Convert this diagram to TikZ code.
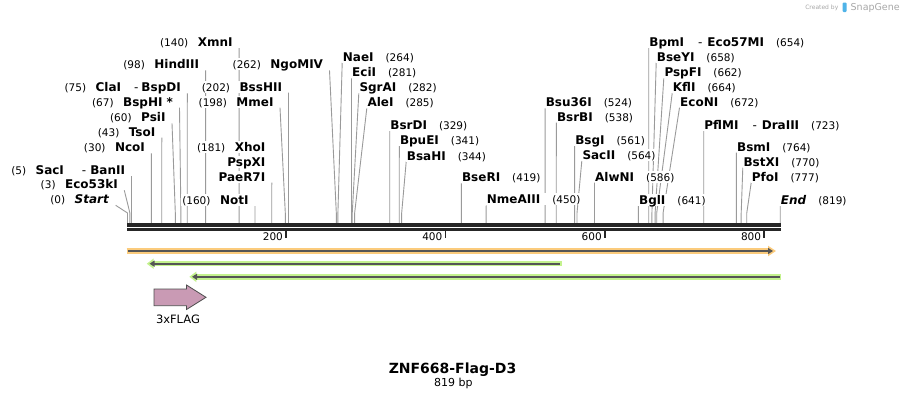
\documentclass[tikz,border=0pt]{standalone}
\usepackage{fontspec}
\setmainfont{DejaVu Sans}
\usepackage{tikz}
\usetikzlibrary{positioning, arrows.meta, backgrounds}
\definecolor{cut_gray}{HTML}{9A9A9A}
\definecolor{seq_bar}{HTML}{262626}
\definecolor{orange_halo}{HTML}{FBCB7C}
\definecolor{green_halo}{HTML}{C4F28E}
\definecolor{feat_core}{HTML}{555555}
\definecolor{flag_fill}{HTML}{C99AB4}
\definecolor{flag_edge}{HTML}{4D4D4D}
\definecolor{credit}{HTML}{A8A8A8}
\definecolor{snap_blue}{HTML}{4FB3E8}
\newcommand{\bpnum}[1]{{\fontsize{10.5}{12}\selectfont\mdseries #1}}

\begin{document}
\begin{tikzpicture}[x=1pt, y=-1pt,
    % etichette a sinistra: (pos) Nome, linea dal basso a destra
    lsite/.style = {
        anchor=south east, fill=white,
        inner xsep=1pt, outer xsep=5.5pt, inner ysep=1.5pt,
        text height=9pt, text depth=0pt,
        font=\fontsize{12}{14}\selectfont\bfseries
    },
    % etichette a destra: Nome (pos), linea dal basso a sinistra
    rsite/.style = {
        anchor=south west, fill=white,
        inner xsep=0.5pt, inner ysep=1.5pt,
        text height=9pt, text depth=0pt,
        font=\fontsize{12}{14}\selectfont\bfseries
    },
    cutline/.style = {draw=cut_gray, line width=0.9pt},
    ticklabel/.style = {anchor=east, inner sep=0, font=\fontsize{10.5}{12}\selectfont}
]
\useasboundingbox (0,0) rectangle (908,400);

% 1. Siti di taglio sulla sequenza (819 bp)
\foreach \p in {0,3,5,30,43,60,67,75,98,140,160,181,198,202,262,264,281,282,285,
    329,341,344,419,450,524,538,561,564,586,641,654,658,662,664,672,723,764,770,777,819}
    \coordinate (p\p) at ({127.5+0.797*\p},213);

% 2. Sequenza (doppia linea) e scala
\draw[seq_bar, line width=3.2pt] (127,225) -- (781,225);
\draw[seq_bar, line width=2.6pt] (127,229.7) -- (781,229.7);
\foreach \t in {200,400,600,800} {
    \draw[seq_bar, line width=1.8pt] ({126.7+0.797*\t},231) -- ++(0,6.5);
    \node[ticklabel] (tick\t) at ({123.7+0.797*\t},236.7) {\t};
}

% 3. Enzimi a sinistra
\node[lsite] (startlbl) at (115.7,205.3) {\bpnum{(0)}\hspace{9.5pt}\textit{Start}};
\node[lsite] (eco) at (124.3,190.3) {\bpnum{(3)}\hspace{9.5pt}Eco53kI};
\node[lsite] (sac) at (131.5,176) {\bpnum{(5)}\hspace{9.5pt}SacI\hspace{18pt}{\mdseries -}\hspace{4pt}BanII};
\node[lsite] (nco) at (151.4,153.3) {\bpnum{(30)}\hspace{9.5pt}NcoI};
\node[lsite] (tso) at (161.8,137.7) {\bpnum{(43)}\hspace{9.5pt}TsoI};
\node[lsite] (psi) at (172,123.3) {\bpnum{(60)}\hspace{9.5pt}PsiI};
\node[lsite] (bsph) at (179.5,107.7) {\bpnum{(67)}\hspace{9.5pt}BspHI *};
\node[lsite] (cla) at (187.3,93.3) {\bpnum{(75)}\hspace{9.5pt}ClaI\hspace{13pt}{\mdseries -}\hspace{3pt}BspDI};
\node[lsite] (hind) at (205.6,70.3) {\bpnum{(98)}\hspace{9.5pt}HindIII};
\node[lsite] (xmn) at (239.1,48) {\bpnum{(140)}\hspace{9.5pt}XmnI};
\node[lsite] (notI) at (255,206) {\bpnum{(160)}\hspace{9.5pt}NotI};
% XhoI / PspXI / PaeR7I tagliano allo stesso sito
\node[lsite] (xho) at (271.8,153.3) {\bpnum{(181)}\hspace{9.5pt}XhoI};
\node[lsite] (pspx) at (271.8,167.7) {PspXI};
\node[lsite] (paer) at (271.8,182.7) {PaeR7I};
\node[lsite] (mme) at (280,107.7) {\bpnum{(198)}\hspace{9.5pt}MmeI};
\node[lsite] (bsshii) at (288.5,92.7) {\bpnum{(202)}\hspace{9.5pt}BssHII};
\node[lsite] (ngom) at (329.5,70.3) {\bpnum{(262)}\hspace{9.5pt}NgoMIV};

% 4. Enzimi a destra
\node[rsite] (nae) at (342.2,62.7) {NaeI\hspace{12pt}\bpnum{(264)}};
\node[rsite] (eci) at (351.5,78.3) {EciI\hspace{12pt}\bpnum{(281)}};
\node[rsite] (sgra) at (358.8,93.3) {SgrAI\hspace{12pt}\bpnum{(282)}};
\node[rsite] (ale) at (366.8,108.3) {AleI\hspace{12pt}\bpnum{(285)}};
\node[rsite] (bsrd) at (389.7,131) {BsrDI\hspace{12pt}\bpnum{(329)}};
\node[rsite] (bpue) at (399.3,146) {BpuEI\hspace{12pt}\bpnum{(341)}};
\node[rsite] (bsah) at (406.2,161.7) {BsaHI\hspace{12pt}\bpnum{(344)}};
\node[rsite] (bser) at (461.4,183.3) {BseRI\hspace{12pt}\bpnum{(419)}};
\node[rsite] (nmea) at (486.2,205.3) {NmeAIII\hspace{12pt}\bpnum{(450)}};
\node[rsite] (bsu) at (545.1,108.3) {Bsu36I\hspace{12pt}\bpnum{(524)}};
\node[rsite] (bsrb) at (556.3,122.7) {BsrBI\hspace{12pt}\bpnum{(538)}};
\node[rsite] (bsg) at (574.6,146) {BsgI\hspace{12pt}\bpnum{(561)}};
\node[rsite] (sac2) at (581.8,161) {SacII\hspace{12pt}\bpnum{(564)}};
\node[rsite] (alwn) at (594.5,182.7) {AlwNI\hspace{12pt}\bpnum{(586)}};
\node[rsite] (bgl) at (638.4,206) {BglI\hspace{12pt}\bpnum{(641)}};
\node[rsite] (bpm) at (648.7,48) {BpmI\hspace{14pt}{\mdseries -}\hspace{5pt}Eco57MI\hspace{12pt}\bpnum{(654)}};
\node[rsite] (bsey) at (656.2,62.7) {BseYI\hspace{12pt}\bpnum{(658)}};
\node[rsite] (pspf) at (663.8,78.3) {PspFI\hspace{12pt}\bpnum{(662)}};
\node[rsite] (kfl) at (672.2,93.3) {KflI\hspace{12pt}\bpnum{(664)}};
\node[rsite] (econ) at (679.5,107.7) {EcoNI\hspace{12pt}\bpnum{(672)}};
\node[rsite] (pflm) at (703.7,131) {PflMI\hspace{14pt}{\mdseries -}\hspace{5pt}DraIII\hspace{12pt}\bpnum{(723)}};
\node[rsite] (bsm) at (736.4,152.7) {BsmI\hspace{12pt}\bpnum{(764)}};
\node[rsite] (bstx) at (742.8,167.7) {BstXI\hspace{12pt}\bpnum{(770)}};
\node[rsite] (pfo) at (751.2,182.7) {PfoI\hspace{12pt}\bpnum{(777)}};
\node[rsite] (endlbl) at (780.2,206) {\textit{End}\hspace{12pt}\bpnum{(819)}};

% Linee di taglio, dietro le etichette
\begin{scope}[on background layer]
\fill[white] (0,0) rectangle (908,400);
\draw[cutline] (startlbl.south east) -- (p0) -- ++(0,11);
\draw[cutline] (eco.south east) -- (p3) -- ++(0,11);
\draw[cutline] (sac.south east) -- (p5) -- ++(0,11);
\draw[cutline] (nco.south east) -- (p30) -- ++(0,11);
\draw[cutline] (tso.south east) -- (p43) -- ++(0,11);
\draw[cutline] (psi.south east) -- (p60) -- ++(0,11);
\draw[cutline] (bsph.south east) -- (p67) -- ++(0,11);
\draw[cutline] (cla.south east) -- (p75) -- ++(0,11);
\draw[cutline] (hind.south east) -- (p98) -- ++(0,11);
\draw[cutline] (xmn.south east) -- (p140) -- ++(0,11);
\draw[cutline] (notI.south east) -- (p160) -- ++(0,11);
\draw[cutline] (paer.south east) -- (p181) -- ++(0,11);
\draw[cutline] (mme.south east) -- (p198) -- ++(0,11);
\draw[cutline] (bsshii.south east) -- (p202) -- ++(0,11);
\draw[cutline] (ngom.south east) -- (p262) -- ++(0,11);
\draw[cutline] (nae.south west) -- (p264) -- ++(0,11);
\draw[cutline] (eci.south west) -- (p281) -- ++(0,11);
\draw[cutline] (sgra.south west) -- (p282) -- ++(0,11);
\draw[cutline] (ale.south west) -- (p285) -- ++(0,11);
\draw[cutline] (bsrd.south west) -- (p329) -- ++(0,11);
\draw[cutline] (bpue.south west) -- (p341) -- ++(0,11);
\draw[cutline] (bsah.south west) -- (p344) -- ++(0,11);
\draw[cutline] (bser.south west) -- (p419) -- ++(0,11);
\draw[cutline] (nmea.south west) -- (p450) -- ++(0,11);
\draw[cutline] (bsu.south west) -- (p524) -- ++(0,11);
\draw[cutline] (bsrb.south west) -- (p538) -- ++(0,11);
\draw[cutline] (bsg.south west) -- (p561) -- ++(0,11);
\draw[cutline] (sac2.south west) -- (p564) -- ++(0,11);
\draw[cutline] (alwn.south west) -- (p586) -- ++(0,11);
\draw[cutline] (bgl.south west) -- (p641) -- ++(0,11);
\draw[cutline] (bpm.south west) -- (p654) -- ++(0,11);
\draw[cutline] (bsey.south west) -- (p658) -- ++(0,11);
\draw[cutline] (pspf.south west) -- (p662) -- ++(0,11);
\draw[cutline] (kfl.south west) -- (p664) -- ++(0,11);
\draw[cutline] (econ.south west) -- (p672) -- ++(0,11);
\draw[cutline] (pflm.south west) -- (p723) -- ++(0,11);
\draw[cutline] (bsm.south west) -- (p764) -- ++(0,11);
\draw[cutline] (bstx.south west) -- (p770) -- ++(0,11);
\draw[cutline] (pfo.south west) -- (p777) -- ++(0,11);
\draw[cutline] (endlbl.south west) -- (p819) -- ++(0,11);
\end{scope}

% 5. Feature e primer
\draw[orange_halo, line width=6pt, -{Triangle[length=8pt, width=10pt]}] (126.7,251) -- (776,251);
\draw[feat_core, line width=2pt, -{Triangle[length=5pt, width=6pt]}] (128,251) -- (773,251);
\draw[green_halo, line width=5.5pt, {Triangle[length=7pt, width=10pt]}-] (146.7,263.7) -- (561.7,263.7);
\draw[feat_core, line width=2pt, {Triangle[length=5pt, width=6pt]}-] (149.5,263.7) -- (560,263.7);
\draw[green_halo, line width=5.5pt, {Triangle[length=7pt, width=10pt]}-] (189.3,276.8) -- (781,276.8);
\draw[feat_core, line width=2pt, {Triangle[length=5pt, width=6pt]}-] (192,276.8) -- (780,276.8);

% 3xFLAG
\filldraw[fill=flag_fill, draw=flag_edge, line width=0.8pt]
    (154,289) -- (186.5,289) -- (186.5,285) -- (206,297.3) -- (186.5,309.5) -- (186.5,305.7) -- (154,305.7) -- cycle;
\node[font=\fontsize{11.5}{13}\selectfont] (flaglbl) at (178,319) {3xFLAG};

% 6. Titolo
\node[font=\fontsize{14}{16}\selectfont\bfseries] (title) at (452.5,370) {ZNF668-Flag-D3};
\node[font=\fontsize{11}{13}\selectfont] (length) at (453.3,383.5) {819 bp};

% Creato da SnapGene
\node[anchor=east, inner sep=0, text=credit, font=\fontsize{6}{7}\selectfont] (credby) at (838.5,7.5) {Created by};
\fill[snap_blue, rounded corners=1pt] (842.5,2.5) rectangle (846.5,12);
\node[anchor=west, inner sep=0, text=credit, font=\fontsize{9.5}{11}\selectfont] (snapgene) at (850.5,7.5) {SnapGene};

\end{tikzpicture}
\end{document}
